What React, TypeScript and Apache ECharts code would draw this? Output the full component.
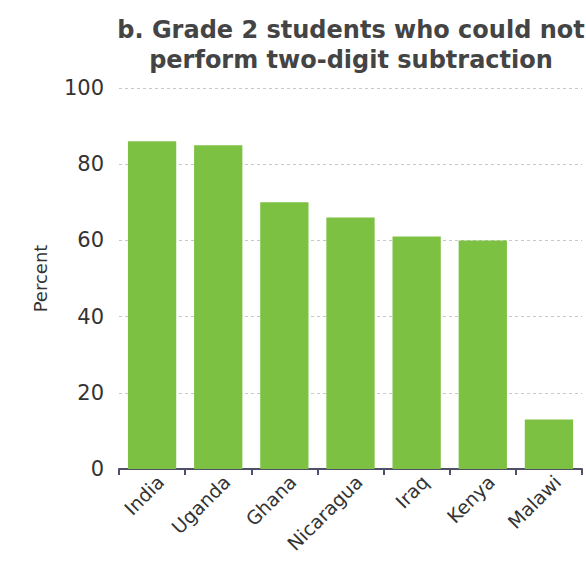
import React, { useEffect, useRef } from "react";
import * as echarts from "echarts";

const categories = ["India", "Uganda", "Ghana", "Nicaragua", "Iraq", "Kenya", "Malawi"];
const values = [86, 85, 70, 66, 61, 60, 13];
const titleLines = ["b. Grade 2 students who could not", "perform two-digit subtraction"];
const yTicks = [0, 20, 40, 60, 80, 100];

export default function App() {
  const ref = useRef<HTMLDivElement>(null);
  useEffect(() => {
    document.body.style.margin = "0";
    const chart = echarts.init(ref.current!, null, { renderer: "svg" });
    const font = "DejaVu Sans";
    chart.setOption({
      animation: false,
      backgroundColor: "#ffffff",
      title: {
        text: titleLines.join("\n"),
        left: 346,
        top: 10,
        textAlign: "center",
        textStyle: { fontFamily: font, fontSize: 24, fontWeight: "bold", color: "#444", lineHeight: 30 },
      },
      grid: { left: 119, right: 4, top: 88, bottom: 104, containLabel: false },
      xAxis: {
        type: "category",
        data: categories,
        axisLine: { lineStyle: { color: "#4f5068", width: 2 } },
        axisTick: { show: true, length: 6, lineStyle: { color: "#4f5068", width: 2 } },
        axisLabel: {
          rotate: 45,
          fontFamily: font,
          fontSize: 19,
          color: "#333",
          margin: 18,
          padding: [0, -12, 0, 0],
        },
        splitLine: { show: false },
      },
      yAxis: {
        type: "value",
        min: yTicks[0],
        max: yTicks[yTicks.length - 1],
        interval: 20,
        name: "Percent",
        nameLocation: "middle",
        nameGap: 70,
        nameTextStyle: { fontFamily: font, fontSize: 18, color: "#333" },
        axisLine: { show: false },
        axisTick: { show: false },
        axisLabel: { fontFamily: font, fontSize: 21, color: "#333", margin: 15 },
        splitLine: { lineStyle: { color: "#c8c8c8", type: [3, 3], width: 1 } },
      },
      series: [
        {
          type: "bar",
          data: values,
          barCategoryGap: "27%",
          itemStyle: { color: "#7dc142" },
        },
      ],
    });
    return () => chart.dispose();
  }, []);
  return <div ref={ref} style={{ width: 586, height: 573 }} />;
}
